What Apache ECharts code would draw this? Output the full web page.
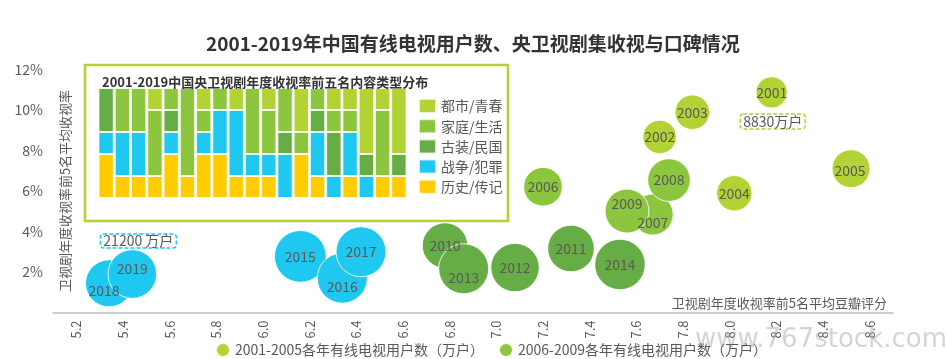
<!DOCTYPE html>
<html>
<head>
<meta charset="utf-8">
<script src="https://cdn.jsdelivr.net/npm/echarts@6/dist/echarts.min.js"></script>
<style>
html,body{margin:0;padding:0;background:#fff;}
#main{width:947px;height:359px;}
</style>
</head>
<body>
<div id="main"></div>
<script>
// ---------- Data ----------
const chartTitle = '2001-2019年中国有线电视用户数、央卫视剧集收视与口碑情况';
const yAxisTitle = '卫视剧年度收视率前5名平均收视率';
const xAxisTitle = '卫视剧年度收视率前5名平均豆瓣评分';
const bubbleYears = [2001,2002,2003,2004,2005,2006,2007,2008,2009,2010,2011,2012,2013,2014,2015,2016,2017,2018,2019];
const doubanScore = [8.18,7.70,7.84,8.02,8.52,7.20,7.67,7.74,7.56,6.78,7.32,7.08,6.86,7.53,6.16,6.34,6.42,5.34,5.44];
const viewRate    = [10.87,8.67,9.89,5.89,7.10,6.21,4.84,6.54,5.01,3.31,3.16,2.22,2.16,2.37,2.77,1.70,3.00,1.44,1.90];
const cableUsers  = [8830,10000,10700,11200,12900,13400,15100,16300,17300,18500,19500,21000,22400,22900,24000,22500,22400,19800,21200];
const groupNames  = ['2001-2005各年有线电视用户数（万户）','2006-2009各年有线电视用户数（万户）','2010-2014各年有线电视用户数（万户）','2015-2019各年有线电视用户数（万户）'];
const groupRanges = [[2001,2005],[2006,2009],[2010,2014],[2015,2019]];
const xTickValues = [5.2,5.4,5.6,5.8,6.0,6.2,6.4,6.6,6.8,7.0,7.2,7.4,7.6,7.8,8.0,8.2,8.4,8.6];
const yTickValues = [2,4,6,8,10,12];

const insetTitle = '2001-2019中国央卫视剧年度收视率前五名内容类型分布';
const insetYears = ['2001','2002','2003','2004','2005','2006','2007','2008','2009','2010','2011','2012','2013','2014','2015','2016','2017','2018','2019'];
const genreUrban   = [0,0,0,1,0,0,1,0,1,0,1,0,2,0,1,1,3,1,3]; // 都市/青春
const genreFamily  = [0,2,2,3,1,4,1,1,0,3,2,2,1,1,1,1,0,3,0]; // 家庭/生活
const genreCostume = [2,0,0,0,1,0,0,0,0,0,0,1,0,1,2,0,1,0,1]; // 古装/民国
const genreWar     = [1,2,2,0,1,0,1,2,3,1,1,2,0,2,1,2,1,0,0]; // 战争/犯罪
const genreHistory = [2,1,1,1,2,1,2,2,1,1,1,0,2,1,0,1,0,1,1]; // 历史/传记
const genreNames   = ['都市/青春','家庭/生活','古装/民国','战争/犯罪','历史/传记'];

// ---------- Styles ----------
const groupColors = ['#b3d234','#8cc63f','#66ad45','#1ec8f0'];
const genreColors = {'都市/青春':'#b3d234','家庭/生活':'#8cc63f','古装/民国':'#66ad45','战争/犯罪':'#1ec8f0','历史/传记':'#ffcc00'};
const labelOffsets = {2007:[0,8],2009:[0,-7],2013:[0,9],2016:[0,9],2018:[-5,7],2019:[0,-5],2005:[-1,2]};
const FONT = '"Noto Sans CJK SC", "Noto Sans", sans-serif';
const TXT = '#595959';

const chart = echarts.init(document.getElementById('main'), null, {renderer:'canvas'});

const bubbleSeries = groupNames.map((name, gi) => {
  const [a, b] = groupRanges[gi];
  const data = [];
  bubbleYears.forEach((yr, i) => {
    if (yr >= a && yr <= b) {
      const item = {value:[doubanScore[i], viewRate[i], cableUsers[i], yr]};
      if (labelOffsets[yr]) item.label = {offset: labelOffsets[yr]};
      data.push(item);
    }
  });
  return {
    name, type:'scatter', xAxisIndex:0, yAxisIndex:0,
    data,
    symbolSize: v => 0.334*Math.sqrt(v[2]),
    itemStyle:{color:groupColors[gi], opacity:1, borderColor:'rgba(255,255,255,0.85)', borderWidth:1},
    label:{show:true, position:'inside', formatter: p => p.value[3], color:TXT, fontSize:14, fontFamily:FONT},
    emphasis:{disabled:true},
    z: 2 + gi
  };
});

// annotation boxes anchored to data
const iFirst = 0, iLast = bubbleYears.length - 1;
bubbleSeries[0].markPoint = {
  symbol:'circle', symbolSize:1, itemStyle:{color:'rgba(0,0,0,0)'},
  data:[{coord:[doubanScore[iFirst], viewRate[iFirst]], value:cableUsers[iFirst]}],
  label:{show:true, formatter: p => p.value + '万户', offset:[1,29], color:TXT, fontSize:14, fontFamily:FONT,
    borderColor:'#b3d234', borderWidth:1.5, borderType:[4,2], borderRadius:3, padding:[1,3,0,3]}
};
bubbleSeries[3].markPoint = {
  symbol:'circle', symbolSize:1, itemStyle:{color:'rgba(0,0,0,0)'},
  data:[{coord:[doubanScore[iLast], viewRate[iLast]], value:cableUsers[iLast]}],
  label:{show:true, formatter: p => p.value + ' 万户', offset:[6,-33], color:TXT, fontSize:14, fontFamily:FONT,
    borderColor:'#1ec8f0', borderWidth:1.5, borderType:[4,2], borderRadius:3, padding:[0,3,0,3]}
};

const genreData = {'都市/青春':genreUrban,'家庭/生活':genreFamily,'古装/民国':genreCostume,'战争/犯罪':genreWar,'历史/传记':genreHistory};
const stackOrder = ['历史/传记','战争/犯罪','古装/民国','家庭/生活','都市/青春'];
const barSeries = stackOrder.map(g => ({
  name:g, type:'bar', stack:'genre', xAxisIndex:1, yAxisIndex:1,
  data: genreData[g].map(v => v === 0 ? null : v),
  barCategoryGap:'6%',
  itemStyle:{color:genreColors[g], borderColor:'rgba(255,255,255,0.75)', borderWidth:1},
  emphasis:{disabled:true},
  z: 10
}));

const option = {
  animation:false,
  textStyle:{fontFamily:FONT},
  title:[
    {text:chartTitle, left:201, top:29, textStyle:{fontSize:19, fontWeight:'bold', color:'#333', fontFamily:FONT}},
    {text:insetTitle, left:97, top:71, textStyle:{fontSize:13, fontWeight:'bold', color:'#333', fontFamily:FONT}, z:12}
  ],
  graphic:[
    {type:'rect', z:1, shape:{x:85, y:65, width:423, height:156}, style:{fill:'#fff', stroke:'#b3d234', lineWidth:2.6}},
    {type:'text', z:1, right:0, top:327, style:{text:'www.767stock.com', fill:'rgba(170,170,170,0.5)', font:'26px "DejaVu Sans", sans-serif'}}
  ],
  legend:[
    {data:groupNames, left:210, top:337, width:560, itemWidth:14, itemHeight:14, itemGap:14, icon:'circle',
     textStyle:{color:TXT, fontSize:14, fontFamily:FONT}, selectedMode:false},
    {data:genreNames, orient:'vertical', left:413, top:93,
     itemWidth:17, itemHeight:14, itemGap:4.2, icon:'rect', z:12,
     textStyle:{color:TXT, fontSize:14, fontFamily:FONT}, selectedMode:false}
  ],
  grid:[
    {left:53, right:54, top:69.5, bottom:46.5, outerBoundsMode:'none', containLabel:false},
    {left:98, top:88, width:309, height:110, z:10, outerBoundsMode:'none', containLabel:false}
  ],
  xAxis:[
    {type:'value', gridIndex:0, min:5.1, max:8.7,
     axisLine:{show:true, lineStyle:{color:'#bfbfbf', width:1.6}},
     axisTick:{show:false}, splitLine:{show:false},
     axisLabel:{customValues:xTickValues, formatter: v => v.toFixed(1), rotate:90, margin:8, color:TXT, fontSize:13, fontFamily:FONT},
     name:xAxisTitle, nameLocation:'end', nameGap:-6, nameMoveOverlap:false,
     nameTextStyle:{align:'right', verticalAlign:'bottom', padding:[0,0,3,0], color:TXT, fontSize:13, fontFamily:FONT}},
    {type:'category', gridIndex:1, data:insetYears,
     axisLine:{show:false}, axisTick:{show:false},
     axisLabel:{interval:8, color:TXT, fontSize:14, margin:7, fontFamily:FONT}}
  ],
  yAxis:[
    {type:'value', gridIndex:0, min:0, max:12,
     axisLine:{show:false}, axisTick:{show:false}, splitLine:{show:false},
     axisLabel:{customValues:yTickValues, formatter:'{value}%', margin:10, color:TXT, fontSize:14, fontFamily:FONT},
     name:yAxisTitle, nameLocation:'middle', nameRotate:90, nameGap:-18.5, nameMoveOverlap:false,
     nameTextStyle:{color:TXT, fontSize:13, fontFamily:FONT, padding:[0,0,0,0]}},
    {type:'value', gridIndex:1, min:0, max:5, show:false}
  ],
  series:[...bubbleSeries, ...barSeries]
};
chart.setOption(option);
</script>
</body>
</html>
